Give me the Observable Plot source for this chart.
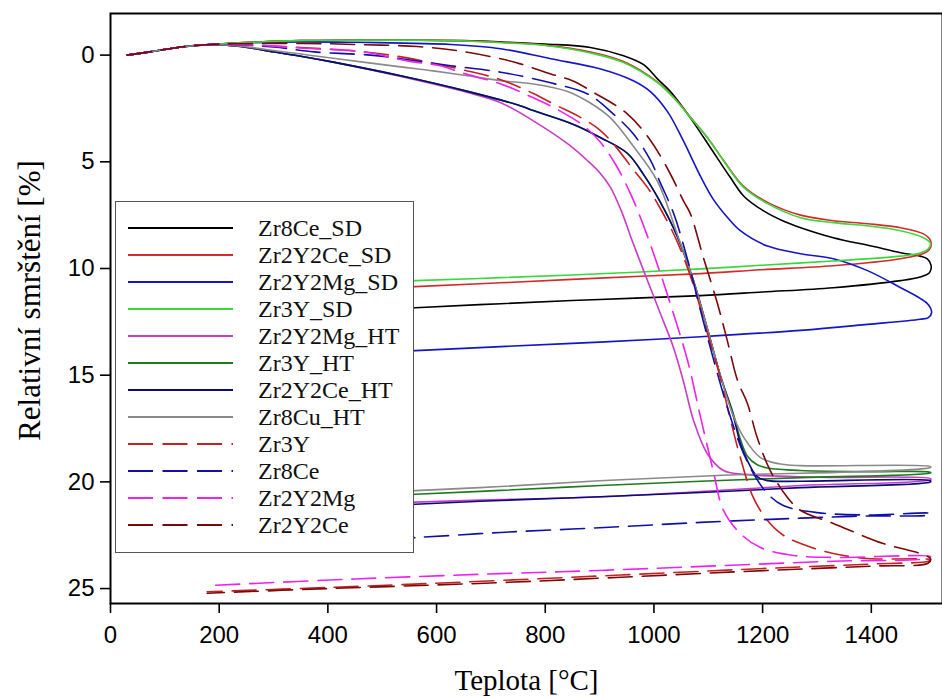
<!DOCTYPE html>
<html>
<head>
<meta charset="utf-8">
<script src="https://cdn.jsdelivr.net/npm/d3@7"></script>
<script src="https://cdn.jsdelivr.net/npm/@observablehq/plot@0.6"></script>
<style>
  html, body { margin: 0; padding: 0; background: #fff; }
  #wrap { position: relative; width: 942px; height: 698px; }
  #legend { position: absolute; left: 0; top: 0; pointer-events: none; }
</style>
</head>
<body>
<div id="wrap"></div>
<script>
// ---- data: [temperature °C, relative shrinkage %] along each measured path (heating, then cooling)
const Zr8Ce_SD = [[31,0],[80,-0.18],[130,-0.38],[184,-0.5],[260,-0.6],[350,-0.68],[450,-0.7],[560,-0.7],[650,-0.68],[718,-0.62],[800,-0.52],[883,-0.36],[944,0.03],[981,0.45],[1006,1.1],[1030,1.7],[1067,2.94],[1104,4.34],[1141,5.75],[1165,6.6],[1201,7.29],[1240,7.8],[1270,8.09],[1330,8.56],[1400,8.95],[1454,9.26],[1490,9.42],[1503,9.55],[1510,9.85],[1507,10.2],[1490,10.4],[1454,10.57],[1330,10.9],[1200,11.1],[1086,11.27],[900,11.45],[718,11.65],[561,11.84],[480,11.95]];
const Zr2Y2Ce_SD = [[31,0],[80,-0.18],[130,-0.38],[184,-0.5],[260,-0.6],[350,-0.68],[450,-0.7],[560,-0.7],[650,-0.67],[718,-0.6],[800,-0.47],[883,-0.15],[944,0.3],[1006,1.25],[1036,1.97],[1067,2.9],[1098,3.85],[1128,4.93],[1165,6.15],[1209,6.9],[1270,7.5],[1330,7.76],[1393,7.9],[1454,8.09],[1496,8.38],[1509,8.7],[1508,9.07],[1496,9.3],[1454,9.54],[1330,9.87],[1196,10.06],[1086,10.24],[900,10.45],[718,10.67],[561,10.85],[480,10.95]];
const Zr2Y2Mg_SD = [[31,0],[80,-0.18],[130,-0.38],[184,-0.5],[260,-0.58],[350,-0.62],[450,-0.6],[560,-0.55],[626,-0.5],[718,-0.3],[810,0.17],[902,0.65],[962,1.2],[994,1.72],[1025,2.65],[1054,4.01],[1086,5.7],[1109,6.75],[1135,7.6],[1159,8.23],[1209,8.95],[1270,9.31],[1330,9.54],[1393,10.1],[1454,10.9],[1490,11.4],[1505,11.7],[1511,12.07],[1505,12.3],[1490,12.38],[1393,12.62],[1270,12.9],[1086,13.2],[900,13.45],[718,13.66],[561,13.85],[480,13.95]];
const Zr3Y_SD = [[31,0],[80,-0.18],[130,-0.38],[184,-0.5],[260,-0.6],[350,-0.68],[450,-0.7],[560,-0.7],[650,-0.66],[718,-0.58],[800,-0.45],[883,-0.1],[944,0.35],[1006,1.28],[1036,1.99],[1067,2.92],[1098,3.86],[1128,4.95],[1165,6.2],[1209,6.96],[1270,7.62],[1330,7.85],[1393,8.0],[1454,8.23],[1496,8.56],[1509,8.84],[1504,9.1],[1490,9.28],[1454,9.42],[1330,9.65],[1196,9.85],[1086,10.02],[900,10.25],[718,10.43],[561,10.57],[480,10.65]];
const Zr2Y2Mg_HT = [[31,0],[80,-0.18],[130,-0.38],[184,-0.5],[240,-0.4],[289,-0.2],[350,0.05],[410,0.33],[534,1.0],[657,1.75],[718,2.23],[778,3.08],[841,4.15],[878,4.95],[900,5.5],[920,6.2],[940,7.3],[960,8.7],[981,10.1],[1012,12.12],[1036,13.71],[1054,15.26],[1073,17.13],[1098,18.67],[1128,19.47],[1165,19.65],[1300,19.78],[1509,19.85],[1509,19.9],[1270,20.17],[1086,20.45],[902,20.7],[718,20.83],[561,20.95],[480,21.05]];
const Zr3Y_HT = [[31,0],[80,-0.18],[130,-0.38],[184,-0.5],[240,-0.4],[289,-0.2],[350,0.05],[410,0.33],[534,0.97],[657,1.7],[754,2.37],[778,2.6],[852,3.25],[902,3.87],[951,4.6],[981,5.6],[1012,6.9],[1043,8.5],[1073,10.6],[1098,12.8],[1122,15.0],[1146,16.8],[1159,18.0],[1172,18.8],[1190,19.2],[1209,19.35],[1270,19.47],[1400,19.52],[1509,19.55],[1509,19.58],[1270,19.8],[1086,19.97],[902,20.17],[718,20.4],[561,20.58],[480,20.68]];
const Zr2Y2Ce_HT = [[31,0],[80,-0.18],[130,-0.38],[184,-0.5],[240,-0.4],[289,-0.2],[350,0.05],[410,0.33],[534,0.97],[657,1.7],[754,2.37],[778,2.6],[852,3.25],[902,3.87],[951,4.6],[981,5.6],[1012,6.9],[1043,8.5],[1073,10.6],[1098,12.8],[1122,15.0],[1146,16.9],[1159,18.2],[1172,19.0],[1190,19.75],[1209,19.94],[1270,19.97],[1509,19.95],[1509,20.0],[1270,20.27],[1086,20.5],[902,20.7],[718,20.87],[561,21.05],[480,21.15]];
const Zr8Cu_HT = [[31,0],[80,-0.18],[130,-0.38],[184,-0.5],[240,-0.42],[289,-0.25],[350,-0.05],[410,0.15],[534,0.55],[594,0.74],[657,0.97],[718,1.2],[778,1.35],[841,1.7],[880,2.2],[920,2.94],[960,4.2],[1006,5.89],[1043,8.4],[1073,10.6],[1098,12.8],[1122,15.0],[1146,16.9],[1165,17.9],[1196,18.86],[1230,19.15],[1270,19.24],[1509,19.28],[1509,19.32],[1117,19.7],[900,19.95],[718,20.22],[561,20.41],[480,20.5]];
const Zr3Y = [[31,0],[80,-0.18],[130,-0.38],[184,-0.5],[226,-0.5],[300,-0.42],[350,-0.36],[466,-0.15],[546,0.13],[589,0.36],[650,0.7],[718,1.15],[778,1.8],[820,2.35],[860,2.85],[900,3.5],[930,4.3],[960,5.3],[988,6.2],[1012,7.2],[1043,8.75],[1073,10.8],[1098,13.0],[1122,15.1],[1140,17.0],[1159,18.86],[1183,20.74],[1209,21.81],[1238,22.5],[1270,22.89],[1330,23.36],[1393,23.59],[1509,23.65],[1505,23.72],[1400,23.85],[1209,24.05],[718,24.62],[400,24.95],[178,25.15]];
const Zr8Ce = [[31,0],[80,-0.18],[130,-0.38],[184,-0.5],[226,-0.5],[300,-0.38],[375,-0.15],[478,0.0],[534,0.17],[626,0.5],[718,0.8],[810,1.3],[880,1.85],[925,2.75],[962,3.69],[994,4.95],[1012,6.0],[1036,7.4],[1062,9.6],[1086,12.0],[1109,14.2],[1135,16.5],[1159,18.3],[1183,19.6],[1209,20.55],[1238,21.11],[1301,21.44],[1393,21.55],[1509,21.48],[1505,21.55],[1393,21.6],[1270,21.7],[1086,21.9],[900,22.15],[718,22.37],[561,22.61],[480,22.7]];
const Zr2Y2Mg = [[31,0],[80,-0.18],[130,-0.38],[184,-0.5],[226,-0.5],[300,-0.42],[350,-0.33],[466,-0.15],[546,0.27],[607,0.5],[653,0.88],[718,1.35],[778,2.0],[826,2.6],[870,3.3],[902,4.1],[930,5.15],[957,6.5],[981,8.0],[1012,10.24],[1036,12.12],[1062,14.32],[1086,16.99],[1109,19.47],[1128,21.34],[1159,22.42],[1196,23.08],[1257,23.45],[1330,23.54],[1509,23.5],[1505,23.58],[1330,23.72],[1100,23.95],[900,24.15],[718,24.3],[450,24.55],[190,24.85]];
const Zr2Y2Ce = [[31,0],[80,-0.18],[130,-0.38],[184,-0.5],[226,-0.53],[350,-0.55],[450,-0.5],[565,-0.4],[640,-0.2],[718,0.17],[754,0.41],[810,0.88],[850,1.2],[889,1.75],[951,2.75],[994,4.01],[1030,5.56],[1054,6.82],[1067,7.43],[1091,9.49],[1117,11.65],[1135,13.38],[1154,15.26],[1172,16.33],[1190,17.92],[1214,19.47],[1246,20.74],[1270,21.34],[1330,21.95],[1422,22.89],[1490,23.36],[1509,23.6],[1505,23.8],[1400,23.95],[1209,24.15],[718,24.72],[400,25.0],[178,25.22]];

const seriesNames = ["Zr8Ce_SD","Zr2Y2Ce_SD","Zr2Y2Mg_SD","Zr3Y_SD","Zr2Y2Mg_HT","Zr3Y_HT","Zr2Y2Ce_HT","Zr8Cu_HT","Zr3Y","Zr8Ce","Zr2Y2Mg","Zr2Y2Ce"];
const seriesData = [Zr8Ce_SD, Zr2Y2Ce_SD, Zr2Y2Mg_SD, Zr3Y_SD, Zr2Y2Mg_HT, Zr3Y_HT, Zr2Y2Ce_HT, Zr8Cu_HT, Zr3Y, Zr8Ce, Zr2Y2Mg, Zr2Y2Ce];
const seriesColors = ["#000000","#d42a2a","#1414c8","#3ad83a","#c83cc8","#1e7a1e","#0a0a78","#8a8a8a","#c82020","#1010a8","#ee22ee","#7a0a0a"];
const seriesDashed = [false,false,false,false,false,false,false,false,true,true,true,true];
const xTicks = [0,200,400,600,800,1000,1200,1400];
const yTicks = [0,5,10,15,20,25];
const xTitle = "Teplota [°C]";
const yTitle = "Relativní smrštění [%]";

const DASH = "24,10";
const sans = "'Liberation Sans', Arial, sans-serif";
const serif = "'Liberation Serif', 'Times New Roman', serif";

const marks = [];
seriesData.forEach((pts, i) => {
  marks.push(Plot.line(pts, {
    x: d => d[0], y: d => d[1],
    stroke: seriesColors[i], strokeWidth: 1.6,
    strokeDasharray: seriesDashed[i] ? DASH : null,
    curve: "catmull-rom"
  }));
});

const chart = Plot.plot({
  width: 942, height: 698,
  marginLeft: 110, marginTop: 13, marginRight: 0, marginBottom: 95,
  style: {background: "white", fontFamily: sans, color: "black", overflow: "visible"},
  x: {domain: [0, 1531]},
  y: {domain: [-1.95, 25.7], reverse: true},
  marks: [
    ...marks,
    Plot.axisX({ticks: xTicks, tickFormat: d => String(d), tickSize: 10, tickPadding: 12, fontSize: 24, strokeWidth: 1.6, label: null}),
    Plot.axisY({ticks: yTicks, tickFormat: d => String(d), tickSize: 10, tickPadding: 6, fontSize: 24, strokeWidth: 1.6, label: null}),
    Plot.frame({stroke: "black", strokeWidth: 2}),
    Plot.text([yTitle], {frameAnchor: "left", textAnchor: "middle", dx: -80, dy: -8, rotate: -90, fontSize: 31, fontFamily: serif, fill: "black"}),
    Plot.text([xTitle], {frameAnchor: "bottom", textAnchor: "middle", dy: 86, fontSize: 29, fontFamily: serif, fill: "black"})
  ]
});
document.getElementById("wrap").appendChild(chart);

// ---- legend overlay (inside the plot area, as in the original)
const lg = d3.select("#wrap").append("svg").attr("id", "legend").attr("width", 942).attr("height", 698);
const box = {x: 115, y: 201, w: 298, h: 351};
lg.append("rect").attr("x", box.x + 0.5).attr("y", box.y + 0.5).attr("width", box.w).attr("height", box.h)
  .attr("fill", "white").attr("stroke", "#555").attr("stroke-width", 1);
seriesNames.forEach((name, i) => {
  const cy = 228 + i * 27;
  lg.append("line").attr("x1", 128).attr("x2", 233).attr("y1", cy).attr("y2", cy)
    .attr("stroke", seriesColors[i]).attr("stroke-width", 1.8)
    .attr("stroke-dasharray", seriesDashed[i] ? "25,9.5" : null);
  lg.append("text").attr("x", 258).attr("y", cy + 8).attr("font-family", serif).attr("font-size", 24)
    .attr("fill", "#111").text(name);
});
</script>
</body>
</html>
